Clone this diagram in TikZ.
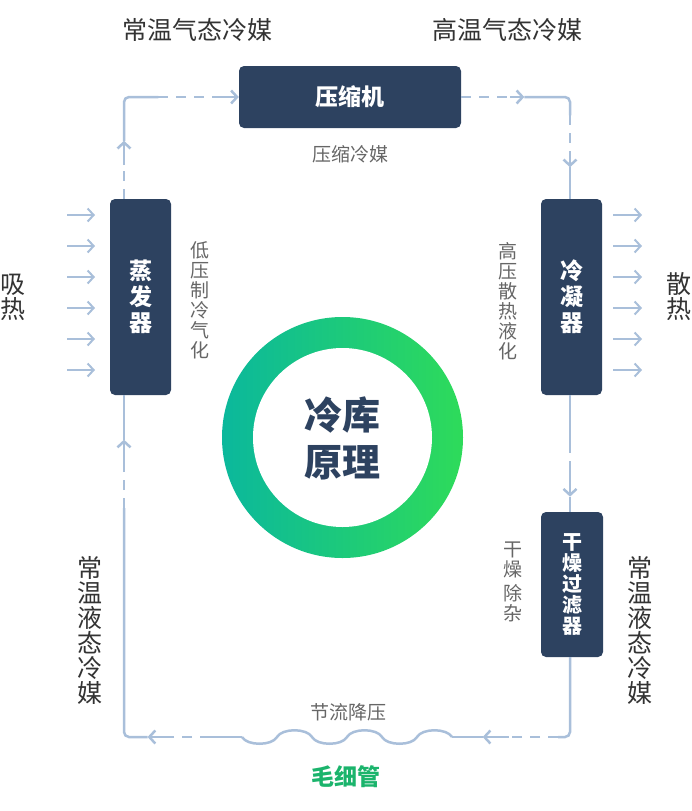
\documentclass[tikz,border=0pt]{standalone}
\usepackage{fontspec}
\setmainfont{Noto Sans CJK SC}
\usetikzlibrary{arrows.meta,calc}
\definecolor{navy}{HTML}{2D4260}
\definecolor{pipeblue}{HTML}{A9BFDA}
\definecolor{darktext}{HTML}{333333}
\definecolor{greytext}{HTML}{666666}
\definecolor{ringL}{HTML}{0BB89C}
\definecolor{ringR}{HTML}{2EDB5A}
\definecolor{capgreen}{HTML}{1BB46C}

\begin{document}
\begin{tikzpicture}[x=1pt,y=-1pt,>={Straight Barb[length=6pt,width=13pt]}]
        \tikzstyle{unit}=[rounded corners=5pt,fill=navy,text=white,inner sep=0pt,align=center]
        \tikzstyle{pipe}=[draw=pipeblue,line width=2.5pt]
        \tikzstyle{gap}=[dash pattern=on 10pt off 8pt]
        \tikzstyle{heat}=[draw=pipeblue,line width=2pt,->]
        \tikzstyle{state}=[text=darktext,align=center,inner sep=0pt,font=\fontsize{25}{25}\selectfont]
        \tikzstyle{note}=[text=greytext,align=center,inner sep=0pt,font=\fontsize{19}{20}\selectfont]
        \useasboundingbox (0,0) rectangle (692,811);

        % units of the loop
        \node[unit,minimum width=222pt,minimum height=62pt,font=\fontsize{23}{24}\selectfont\bfseries] (comp) at (350,97) {压缩机};
        \node[unit,minimum width=61pt,minimum height=196pt,font=\fontsize{23}{26}\selectfont\bfseries] (evap) at (140.5,297) {蒸\\发\\器};
        \node[unit,minimum width=61pt,minimum height=196pt,font=\fontsize{23}{26}\selectfont\bfseries] (cond) at (571.5,297) {冷\\凝\\器};
        \node[unit,minimum width=62pt,minimum height=145pt,font=\fontsize{20}{21}\selectfont\bfseries] (filt) at (572,584.5) {干\\燥\\过\\滤\\器};

        \coordinate (tl) at (124,97);
        \coordinate (tr) at (570,97);
        \coordinate (br) at (570,737);
        \coordinate (bl) at (124,737);
        \coordinate (capW) at (242,737);
        \coordinate (capE) at (452,737);
        \coordinate (evapN) at (tl |- evap.north);
        \coordinate (evapS) at (tl |- evap.south);
        \coordinate (condN) at (tr |- cond.north);
        \coordinate (condS) at (tr |- cond.south);
        \coordinate (filtN) at (tr |- filt.north);
        \coordinate (filtS) at (tr |- filt.south);

        % evaporator -> compressor
        \draw[pipe,gap] (evapN) -- ($(evapN)!0.33!(tl)$);
        \draw[pipe,->] ($(evapN)!0.33!(tl)$) -- ($(evapN)!0.57!(tl)$);
        \draw[pipe,rounded corners=5pt] ($(evapN)!0.57!(tl)$) -- (tl) -- ($(tl)!0.3!(comp.west)$);
        \draw[pipe,gap] ($(tl)!0.3!(comp.west)$) -- ($(tl)!0.8!(comp.west)$);
        \draw[pipe,->] ($(tl)!0.8!(comp.west)$) -- (comp.west);

        % compressor -> condenser
        \draw[pipe,gap] (comp.east) -- ($(comp.east)!0.45!(tr)$);
        \draw[pipe,->] ($(comp.east)!0.45!(tr)$) -- ($(comp.east)!0.58!(tr)$);
        \draw[pipe,rounded corners=5pt] ($(comp.east)!0.58!(tr)$) -- (tr) -- ($(tr)!0.18!(condN)$);
        \draw[pipe,gap] ($(tr)!0.18!(condN)$) -- ($(tr)!0.55!(condN)$);
        \draw[pipe,->] ($(tr)!0.55!(condN)$) -- ($(tr)!0.69!(condN)$);
        \draw[pipe] ($(tr)!0.69!(condN)$) -- (condN);

        % condenser -> filter
        \draw[pipe] (condS) -- ($(condS)!0.41!(filtN)$);
        \draw[pipe,gap] ($(condS)!0.41!(filtN)$) -- ($(condS)!0.64!(filtN)$);
        \draw[pipe,->] ($(condS)!0.64!(filtN)$) -- ($(condS)!0.87!(filtN)$);
        \draw[pipe] ($(condS)!0.87!(filtN)$) -- (filtN);

        % filter -> capillary
        \draw[pipe,rounded corners=5pt] (filtS) -- (br) -- ($(br)!0.1!(capE)$);
        \draw[pipe,gap] ($(br)!0.1!(capE)$) -- ($(br)!0.52!(capE)$);
        \draw[pipe,->] ($(br)!0.52!(capE)$) -- ($(br)!0.74!(capE)$);
        \draw[pipe] ($(br)!0.74!(capE)$) -- (capE);

        % capillary
        \draw[pipe] (capW) \foreach \i in {1,2,3} {.. controls +(5,9) and +(-5,9) .. ++(35,0) .. controls +(5,-9) and +(-5,-9) .. ++(35,0)};

        % capillary -> evaporator
        \draw[pipe] (capW) -- ($(capW)!0.27!(bl)$);
        \draw[pipe,gap] ($(capW)!0.27!(bl)$) -- ($(capW)!0.6!(bl)$);
        \draw[pipe,->] ($(capW)!0.6!(bl)$) -- ($(capW)!0.8!(bl)$);
        \draw[pipe,rounded corners=5pt] ($(capW)!0.8!(bl)$) -- (bl) -- ($(bl)!0.67!(evapS)$);
        \draw[pipe,gap] ($(bl)!0.67!(evapS)$) -- ($(bl)!0.78!(evapS)$);
        \draw[pipe,->] ($(bl)!0.78!(evapS)$) -- ($(bl)!0.87!(evapS)$);
        \draw[pipe] ($(bl)!0.87!(evapS)$) -- (evapS);

        % heat in / heat out
        \foreach \y in {215,246,277,308,339,370} {
                \draw[heat] (67,\y) -- (95,\y);
                \draw[heat] (613,\y) -- (642,\y);
        }

        % ring
        \shade[left color=ringL,right color=ringR] (342.5,437.5) circle[radius=120.5pt];
        \fill[white] (342.5,437.5) circle[radius=89.5pt];
        \node[text=navy,align=center,inner sep=0pt,font=\fontsize{38}{47}\selectfont\bfseries] (core) at (342.5,438) {冷库\\原理};

        % labels
        \node[state] (suction) at (197,30) {常温气态冷媒};
        \node[state] (discharge) at (507,30) {高温气态冷媒};
        \node[note] (compnote) at (350,154) {压缩冷媒};
        \node[state] (absorb) at (13,297) {吸\\热};
        \node[state] (release) at (679,297) {散\\热};
        \node[note] (evapnote) at (200,300) {低\\压\\制\\冷\\气\\化};
        \node[note] (condnote) at (508,301) {高\\压\\散\\热\\液\\化};
        \node[note] (filtnote) at (513,582) {干\\燥\\[4pt]除\\杂};
        \node[state] (liqL) at (90,630) {常\\温\\液\\态\\冷\\媒};
        \node[state] (liqR) at (640,630) {常\\温\\液\\态\\冷\\媒};
        \node[note] (capnote) at (348,712) {节流降压};
        \node[text=capgreen,inner sep=0pt,font=\fontsize{23}{26}\selectfont\bfseries] (capname) at (346,777) {毛细管};
\end{tikzpicture}
\end{document}
